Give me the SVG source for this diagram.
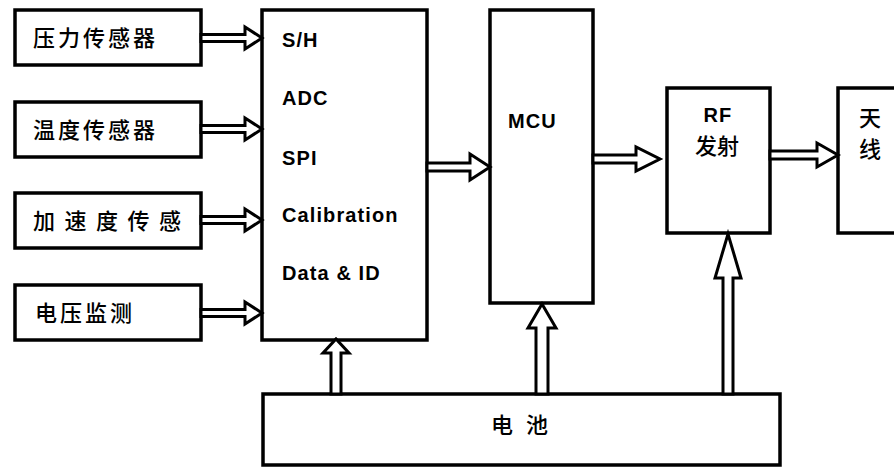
<svg xmlns="http://www.w3.org/2000/svg" width="894" height="467" viewBox="0 0 894 467">
<style>
.box{fill:#fff;stroke:#000;stroke-width:3.5}
.arr{fill:#fff;stroke:#000;stroke-width:3;stroke-linejoin:miter}
.cn{font-family:"Noto Sans CJK SC",sans-serif;font-size:22px;font-weight:500;fill:#000}
.en{font-family:"Liberation Sans",Arial,sans-serif;font-size:20px;font-weight:bold;letter-spacing:1.1px;fill:#000}
</style>
<rect width="894" height="467" fill="#fff"/>
<g id="sensor-pressure">
<rect class="box" x="15" y="10" width="186" height="55"/>
<text class="cn" x="33" y="46" letter-spacing="3">压力传感器</text>
</g>
<g id="sensor-temp">
<rect class="box" x="15" y="102" width="186" height="55"/>
<text class="cn" x="33" y="138" letter-spacing="3">温度传感器</text>
</g>
<g id="sensor-accel">
<rect class="box" x="15" y="193" width="186" height="55"/>
<text class="cn" x="33" y="229" letter-spacing="9.5">加速度传感</text>
</g>
<g id="sensor-voltage">
<rect class="box" x="15" y="285" width="186" height="55"/>
<text class="cn" x="35" y="321" letter-spacing="3">电压监测</text>
</g>
<g id="interface">
<rect class="box" x="262" y="10" width="165" height="330"/>
<text class="en" x="282" y="47">S/H</text>
<text class="en" x="282" y="105">ADC</text>
<text class="en" x="282" y="165">SPI</text>
<text class="en" x="282" y="222">Calibration</text>
<text class="en" x="282" y="280">Data &amp; ID</text>
</g>
<g id="mcu">
<rect class="box" x="490" y="10" width="103" height="293"/>
<text class="en" x="508" y="128">MCU</text>
</g>
<g id="rf">
<rect class="box" x="667" y="88" width="103" height="145"/>
<text class="en" x="718" y="122" text-anchor="middle">RF</text>
<text class="cn" x="717" y="154" text-anchor="middle">发射</text>
</g>
<g id="antenna">
<rect class="box" x="838" y="88" width="80" height="145"/>
<text class="cn" x="870" y="126" text-anchor="middle">天</text>
<text class="cn" x="870" y="157" text-anchor="middle">线</text>
</g>
<g id="battery">
<rect class="box" x="263" y="394" width="517" height="71"/>
<text class="cn" x="491" y="433" letter-spacing="13">电池</text>
</g>
<g id="connectors">
<path class="arr" d="M201,34.5 H245 V27 L262,38 L245,49 V41.5 H201 Z"/>
<path class="arr" d="M201,125.5 H245 V118 L262,129 L245,140 V132.5 H201 Z"/>
<path class="arr" d="M201,216.5 H245 V209 L262,220 L245,231 V223.5 H201 Z"/>
<path class="arr" d="M201,309.5 H245 V302 L262,313 L245,324 V316.5 H201 Z"/>
<path class="arr" d="M427,163 H470 V154 L490,167 L470,180 V171 H427 Z"/>
<path class="arr" d="M593,155 H636 V147 L660,159 L636,171 V163 H593 Z"/>
<path class="arr" d="M770,151 H817 V143 L838,155 L817,167 V159 H770 Z"/>
<path class="arr" d="M331,394 V353 H323 L336,339 L349,353 H341 V394 Z"/>
<path class="arr" d="M536,394 V328 H528 L542,304 L556,328 H548 V394 Z"/>
<path class="arr" d="M723,394 V278 H715 L728,234 L741,278 H733 V394 Z"/>
</g>
</svg>
